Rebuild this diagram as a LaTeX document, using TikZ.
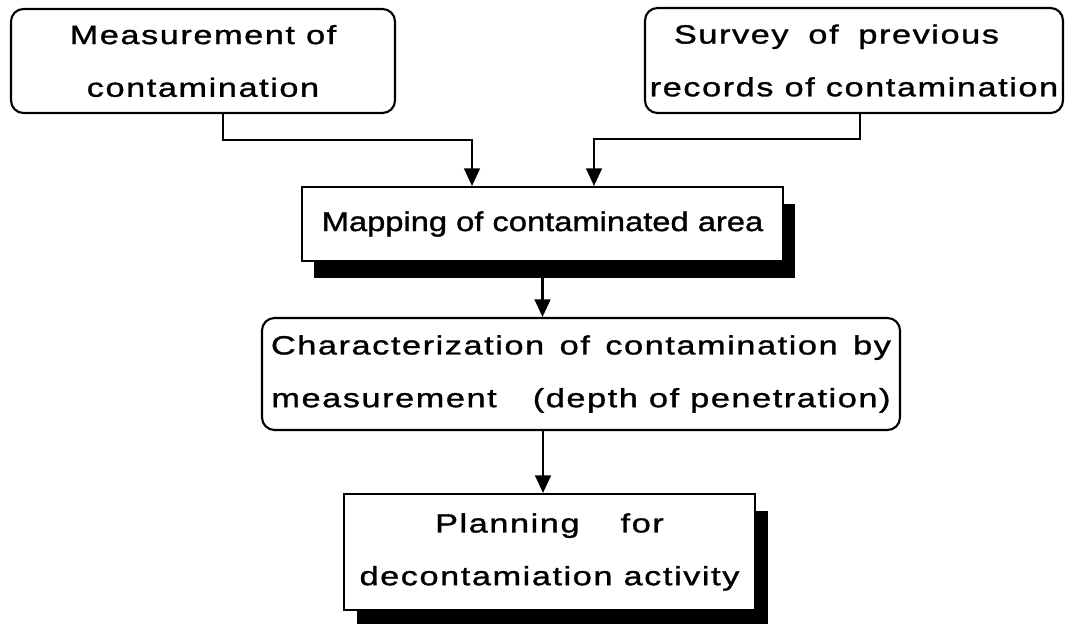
\documentclass[tikz,border=0pt]{standalone}
\usepackage{fontspec}
\setmainfont{Liberation Sans}[FakeStretch=1.3, LetterSpace=6, FakeBold=1.2]
\newfontfamily\mapfont{Liberation Sans}[FakeStretch=1.2, FakeBold=1.2]
\usepackage{tikz}
\usetikzlibrary{arrows.meta}
\usetikzlibrary{shadows}
\pgfdeclarelayer{edgelayer}
\pgfdeclarelayer{nodelayer}
\pgfsetlayers{edgelayer,nodelayer,main}
\tikzstyle{roundbox}=[rectangle,rounded corners=2.5mm,draw=black,fill=white,line width=1.2pt,align=center,inner sep=0pt,font=\fontsize{15}{30}\selectfont]
\tikzstyle{shadowbox}=[rectangle,draw=black,fill=white,line width=1.2pt,align=center,inner sep=0pt,font=\fontsize{15}{30}\selectfont]
\tikzstyle{arrow}=[-{Triangle[width=9pt,length=10pt]},line width=1.2pt]

\begin{document}
\begin{tikzpicture}
        \useasboundingbox (0, 0) rectangle (21.3, -12.48);
        \begin{pgfonlayer}{nodelayer}
            \node [style = roundbox, minimum width=7.68cm, minimum height=2.08cm] (meas) at (4.06, -1.22) {Measurement of\\contamination};
            \node [style = roundbox, minimum width=8.36cm, minimum height=2.1cm] (survey) at (17.08, -1.21) {\makebox[7.2cm][l]{\makebox[6.5cm][s]{Survey of previous}}\\records of contamination};

            \node [style = shadowbox, minimum width=9.62cm, minimum height=1.48cm, font=\mapfont\fontsize{15.5}{30}\selectfont, drop shadow={shadow xshift=0.23cm, shadow yshift=-0.35cm, fill=black, opacity=1}] (map) at (10.85, -4.48) {Mapping of contaminated area};

            \node [style = roundbox, minimum width=12.76cm, minimum height=2.24cm] (char) at (11.62, -7.48) {\makebox[12.4cm][s]{Characterization of contamination by}\\measurement\hspace{5mm} (depth of penetration)};

            \node [style = shadowbox, minimum width=8.22cm, minimum height=2.32cm, drop shadow={shadow xshift=0.26cm, shadow yshift=-0.34cm, fill=black, opacity=1}] (plan) at (10.99, -11.04) {Planning\hspace{6mm} for\\decontamiation activity};
        \end{pgfonlayer}

        \begin{pgfonlayer}{edgelayer}
            \draw [style = arrow] ([xshift=4mm]meas.south) -- ++(0, -0.52) -| ([xshift=-14.1mm]map.north);
            \draw [style = arrow] ([xshift=1.2mm]survey.south) -- ++(0, -0.5) -| ([xshift=10.3mm]map.north);

            \draw [style = arrow] (map.south) to (map.south |- char.north);
            \draw [style = arrow] ([xshift=-1.3mm]plan.north |- char.south) to ([xshift=-1.3mm]plan.north);
        \end{pgfonlayer}
    \end{tikzpicture}
\end{document}
